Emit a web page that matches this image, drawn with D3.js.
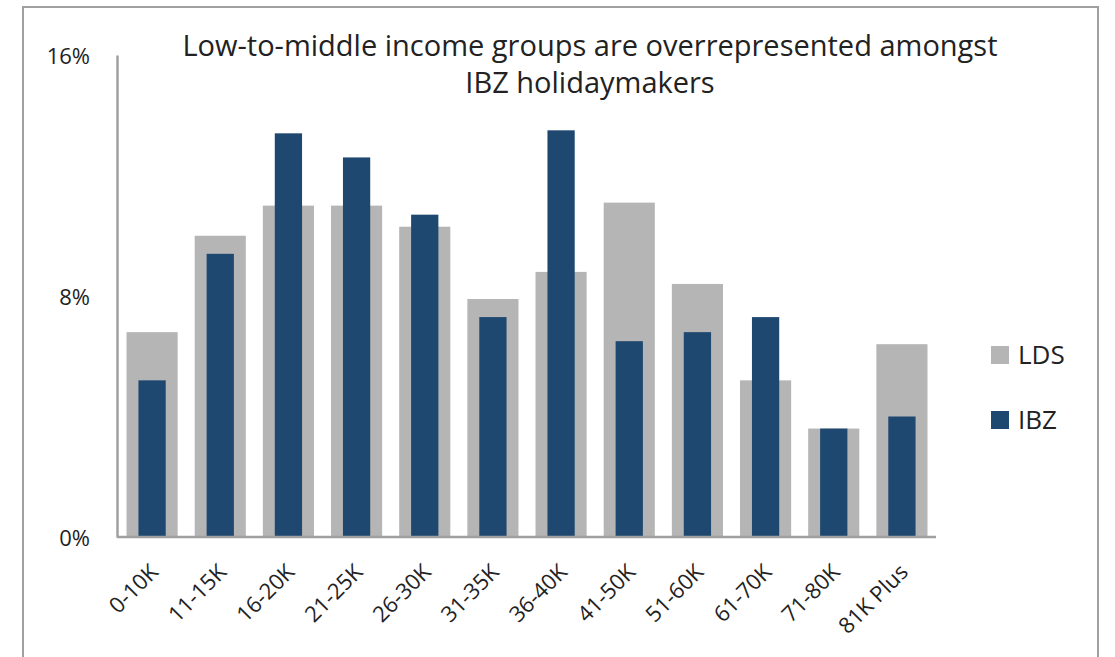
<!DOCTYPE html>
<html>
<head>
<meta charset="utf-8">
<script src="https://cdn.jsdelivr.net/npm/d3@7"></script>
<style>
  html, body { margin: 0; padding: 0; background: #fff; }
  svg { display: block; font-family: "Open Sans", Lato, sans-serif; }
</style>
</head>
<body>
<svg id="chart" width="1115" height="657"></svg>
<script>
// Income bands and the share of each population (percent)
const categories = ["0-10K", "11-15K", "16-20K", "21-25K", "26-30K", "31-35K",
                    "36-40K", "41-50K", "51-60K", "61-70K", "71-80K", "81K Plus"];
const ldsValues = [6.8, 10.0, 11.0, 11.0, 10.3, 7.9, 8.8, 11.1, 8.4, 5.2, 3.6, 6.4];
const ibzValues = [5.2, 9.4, 13.4, 12.6, 10.7, 7.3, 13.5, 6.5, 6.8, 7.3, 3.6, 4.0];
const yTicks = [0, 8, 16];
const seriesNames = ["LDS", "IBZ"];
const titleLines = ["Low-to-middle income groups are overrepresented amongst",
                    "IBZ holidaymakers"];

const colors = { LDS: "#b5b5b5", IBZ: "#1f4870" };
const font = "'Open Sans', Lato, sans-serif";
const svg = d3.select("#chart");

// outer frame
svg.append("path")
  .attr("d", "M23,660 V7 H1098 V660")
  .attr("fill", "none").attr("stroke", "#a0a0a0").attr("stroke-width", 2);

const x = d3.scaleBand().domain(categories).range([118, 936]).padding(0);
const y = d3.scaleLinear().domain([0, 16]).range([537, 55]);

const ldsW = x.bandwidth() * 0.75;
const ibzW = x.bandwidth() * 0.4;

// LDS bars (wide, behind)
svg.append("g").selectAll("rect").data(categories).join("rect")
  .attr("x", d => x(d) + (x.bandwidth() - ldsW) / 2)
  .attr("width", ldsW)
  .attr("y", (d, i) => y(ldsValues[i]))
  .attr("height", (d, i) => y(0) - y(ldsValues[i]))
  .attr("fill", colors.LDS);

// IBZ bars (narrow, in front)
svg.append("g").selectAll("rect").data(categories).join("rect")
  .attr("x", d => x(d) + (x.bandwidth() - ibzW) / 2)
  .attr("width", ibzW)
  .attr("y", (d, i) => y(ibzValues[i]))
  .attr("height", (d, i) => y(0) - y(ibzValues[i]))
  .attr("fill", colors.IBZ);

// y axis
const yAxis = svg.append("g").attr("transform", "translate(117,0)")
  .call(d3.axisLeft(y).tickValues(yTicks).tickSize(0).tickPadding(27).tickFormat(d => d + "%"));
yAxis.select(".domain").attr("stroke", "#a0a0a0").attr("stroke-width", 2.5);
yAxis.selectAll("text").attr("font-size", 22).attr("fill", "#222")
  .attr("font-family", font).attr("dy", "0.38em");

// x axis
const xAxis = svg.append("g").attr("transform", "translate(0,537)")
  .call(d3.axisBottom(x).tickSize(0).tickSizeOuter(0).tickPadding(0));
xAxis.select(".domain").attr("stroke", "#a0a0a0").attr("stroke-width", 2.5)
  .attr("d", `M117,0H936`);
xAxis.selectAll("text")
  .attr("font-size", 22).attr("fill", "#222").attr("font-family", font)
  .attr("text-anchor", "end")
  .attr("transform", "translate(2,31) rotate(-45)")
  .attr("dy", "0.35em").attr("y", 0);

// title
svg.append("text").attr("x", 590).attr("y", 56)
  .attr("text-anchor", "middle").attr("font-size", 29).attr("fill", "#222")
  .attr("font-family", font)
  .selectAll("tspan").data(titleLines).join("tspan")
  .attr("x", 590).attr("dy", (d, i) => i === 0 ? 0 : 37).text(d => d);

// legend
const legend = svg.append("g").selectAll("g").data(seriesNames).join("g")
  .attr("transform", (d, i) => `translate(991,${355 + i * 65})`);
legend.append("rect").attr("x", 0).attr("y", -9).attr("width", 18).attr("height", 18)
  .attr("fill", d => colors[d]);
legend.append("text").attr("x", 27).attr("y", 0).attr("dy", "0.36em")
  .attr("font-size", 26).attr("fill", "#222").attr("font-family", font).text(d => d);
</script>
</body>
</html>
